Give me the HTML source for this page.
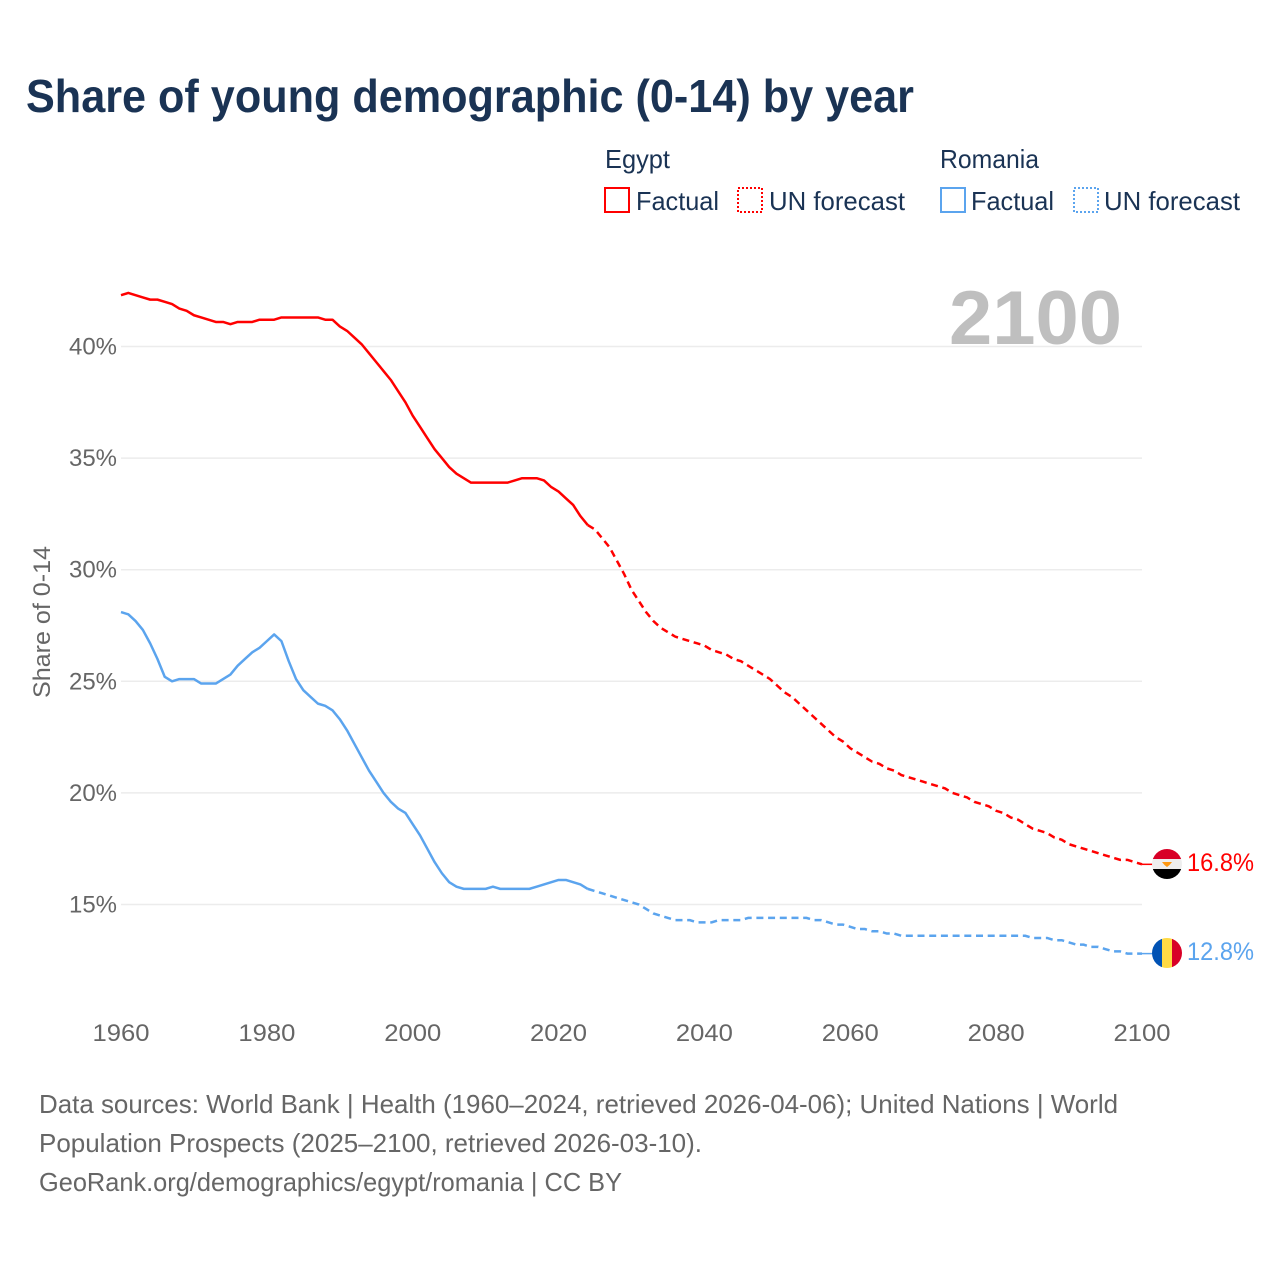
<!DOCTYPE html>
<html lang="en">
<head>
<meta charset="utf-8">
<title>Share of young demographic (0-14) by year</title>
<style>
html,body{margin:0;padding:0;background:#fff;}
svg{display:block;font-family:"Liberation Sans",sans-serif;}
</style>
</head>
<body>
<svg id="chart" width="1280" height="1280" viewBox="0 0 1280 1280" xmlns="http://www.w3.org/2000/svg">
  <defs>
    <clipPath id="flag-clip-egypt"><circle id="clip-egypt" cx="1167" cy="864" r="15"></circle></clipPath>
    <clipPath id="flag-clip-romania"><circle id="clip-romania" cx="1167" cy="953" r="15"></circle></clipPath>
  </defs>
  <rect x="0" y="0" width="1280" height="1280" fill="#fff"></rect>
  <text x="26" y="112" font-size="46" font-weight="700" fill="#1a3354" textLength="888" lengthAdjust="spacingAndGlyphs">Share of young demographic (0-14) by year</text>

  <g font-size="26" fill="#1a3354">
    <text x="605" y="168" textLength="65" lengthAdjust="spacingAndGlyphs">Egypt</text>
    <rect x="605" y="188" width="24" height="24" fill="none" stroke="#ff0000" stroke-width="2"></rect>
    <text x="636" y="210" textLength="83" lengthAdjust="spacingAndGlyphs">Factual</text>
    <rect x="738" y="188" width="24" height="24" fill="none" stroke="#ff0000" stroke-width="2" stroke-dasharray="2 2"></rect>
    <text x="769" y="210" textLength="136" lengthAdjust="spacingAndGlyphs">UN forecast</text>
    <text x="940" y="168" textLength="99" lengthAdjust="spacingAndGlyphs">Romania</text>
    <rect x="941" y="188" width="24" height="24" fill="none" stroke="#5ba4ee" stroke-width="2"></rect>
    <text x="971" y="210" textLength="83" lengthAdjust="spacingAndGlyphs">Factual</text>
    <rect x="1074" y="188" width="24" height="24" fill="none" stroke="#5ba4ee" stroke-width="2" stroke-dasharray="2 2"></rect>
    <text x="1104" y="210" textLength="136" lengthAdjust="spacingAndGlyphs">UN forecast</text>
  </g>

  <g id="grid"></g>
  <text x="949" y="344" font-size="76" font-weight="700" fill="#bfbfbf" textLength="173" lengthAdjust="spacingAndGlyphs">2100</text>
  <g id="y-ticks"></g>
  <g id="x-ticks"></g>
  <text transform="translate(50 622) rotate(-90)" text-anchor="middle" font-size="24" fill="#666" textLength="152" lengthAdjust="spacingAndGlyphs">Share of 0-14</text>
  <g id="series"></g>

  <g id="flag-egypt" clip-path="url(#flag-clip-egypt)">
    <rect id="eg-1" x="1152" y="849" width="30" height="10" fill="#d80027"></rect>
    <rect id="eg-2" x="1152" y="859" width="30" height="10" fill="#eeeeee"></rect>
    <rect id="eg-3" x="1152" y="869" width="30" height="10" fill="#000000"></rect>
    <path id="eg-4" d="M1162 862h10l-2.500 3-2.500 2-2.500-2z" fill="#ff9811"></path>
  </g>
  <g id="flag-romania" clip-path="url(#flag-clip-romania)">
    <rect id="ro-1" x="1152" y="938" width="10" height="30" fill="#0052b4"></rect>
    <rect id="ro-2" x="1162" y="938" width="10" height="30" fill="#ffda44"></rect>
    <rect id="ro-3" x="1172" y="938" width="10" height="30" fill="#d80027"></rect>
  </g>
  <text id="label-egypt" x="1187" y="871" font-size="25" fill="#ff0000" textLength="67" lengthAdjust="spacingAndGlyphs"></text>
  <text id="label-romania" x="1187" y="960" font-size="25" fill="#5ba4ee" textLength="67" lengthAdjust="spacingAndGlyphs"></text>

  <g font-size="26" fill="#666">
    <text x="39" y="1113" textLength="1079" lengthAdjust="spacingAndGlyphs">Data sources: World Bank | Health (1960–2024, retrieved 2026-04-06); United Nations | World</text>
    <text x="39" y="1152" textLength="663" lengthAdjust="spacingAndGlyphs">Population Prospects (2025–2100, retrieved 2026-03-10).</text>
    <text x="39" y="1191" textLength="583" lengthAdjust="spacingAndGlyphs">GeoRank.org/demographics/egypt/romania | CC BY</text>
  </g>
</svg>
<script>
const xTickYears = [1960, 1980, 2000, 2020, 2040, 2060, 2080, 2100];
const yTickValues = [15, 20, 25, 30, 35, 40];
const firstYear = 1960;
const lastFactualYear = 2024;
const egyptValues = [
42.3,42.4,42.3,42.2,42.1,42.1,42.0,41.9,41.7,41.6,
41.4,41.3,41.2,41.1,41.1,41.0,41.1,41.1,41.1,41.2,
41.2,41.2,41.3,41.3,41.3,41.3,41.3,41.3,41.2,41.2,
40.9,40.7,40.4,40.1,39.7,39.3,38.9,38.5,38.0,37.5,
36.9,36.4,35.9,35.4,35.0,34.6,34.3,34.1,33.9,33.9,
33.9,33.9,33.9,33.9,34.0,34.1,34.1,34.1,34.0,33.7,
33.5,33.2,32.9,32.4,32.0,31.8,31.4,31.0,30.4,29.8,
29.1,28.6,28.1,27.7,27.4,27.2,27.0,26.9,26.8,26.7,
26.6,26.4,26.3,26.2,26.0,25.9,25.7,25.5,25.3,25.1,
24.8,24.5,24.3,24.0,23.7,23.4,23.1,22.8,22.5,22.3,
22.0,21.8,21.6,21.4,21.3,21.1,21.0,20.8,20.7,20.6,
20.5,20.4,20.3,20.2,20.0,19.9,19.8,19.6,19.5,19.4,
19.2,19.1,18.9,18.8,18.6,18.4,18.3,18.2,18.0,17.9,
17.7,17.6,17.5,17.4,17.3,17.2,17.1,17.0,17.0,16.9,
16.8];
const romaniaValues = [
28.1,28.0,27.7,27.3,26.7,26.0,25.2,25.0,25.1,25.1,
25.1,24.9,24.9,24.9,25.1,25.3,25.7,26.0,26.3,26.5,
26.8,27.1,26.8,25.9,25.1,24.6,24.3,24.0,23.9,23.7,
23.3,22.8,22.2,21.6,21.0,20.5,20.0,19.6,19.3,19.1,
18.6,18.1,17.5,16.9,16.4,16.0,15.8,15.7,15.7,15.7,
15.7,15.8,15.7,15.7,15.7,15.7,15.7,15.8,15.9,16.0,
16.1,16.1,16.0,15.9,15.7,15.6,15.5,15.4,15.3,15.2,
15.1,15.0,14.8,14.6,14.5,14.4,14.3,14.3,14.3,14.2,
14.2,14.2,14.3,14.3,14.3,14.3,14.4,14.4,14.4,14.4,
14.4,14.4,14.4,14.4,14.4,14.3,14.3,14.2,14.1,14.1,
14.0,13.9,13.9,13.8,13.8,13.7,13.7,13.6,13.6,13.6,
13.6,13.6,13.6,13.6,13.6,13.6,13.6,13.6,13.6,13.6,
13.6,13.6,13.6,13.6,13.6,13.5,13.5,13.5,13.4,13.4,
13.3,13.2,13.2,13.1,13.1,13.0,12.9,12.9,12.8,12.8,
12.8];

const NS = 'http://www.w3.org/2000/svg';
const xOf = function (year) { return 121 + (year - 1960) * (1142 - 121) / 140; };
const yOf = function (v) { return 346.5 + (40 - v) * (904.5 - 346.5) / 25; };

const grid = document.getElementById('grid');
const yTicks = document.getElementById('y-ticks');
const xTicks = document.getElementById('x-ticks');
const series = document.getElementById('series');

yTickValues.forEach(function (v) {
  const line = document.createElementNS(NS, 'line');
  
  
  line.setAttribute('x1', xOf(1960));
  line.setAttribute('x2', xOf(2100));
  line.setAttribute('y1', yOf(v));
  line.setAttribute('y2', yOf(v));
  line.setAttribute('stroke', '#ececec');
  line.setAttribute('stroke-width', '1.500');
  grid.appendChild(line);

  const t = document.createElementNS(NS, 'text');
  
  
  t.setAttribute('x', 69);
  t.setAttribute('y', yOf(v) + 8);
  t.setAttribute('font-size', '24');
  t.setAttribute('fill', '#666');
  t.setAttribute('textLength', '48');
  t.setAttribute('lengthAdjust', 'spacingAndGlyphs');
  t.textContent = v + '%';
  yTicks.appendChild(t);
});

xTickYears.forEach(function (year) {
  const t = document.createElementNS(NS, 'text');
  
  
  t.setAttribute('x', xOf(year) - 28.500);
  t.setAttribute('y', 1041);
  t.setAttribute('font-size', '24');
  t.setAttribute('fill', '#666');
  t.setAttribute('textLength', '57');
  t.setAttribute('lengthAdjust', 'spacingAndGlyphs');
  t.textContent = String(year);
  xTicks.appendChild(t);
});

function pointsFor(values, fromYear, toYear) {
  const pts = [];
  for (let yr = fromYear; yr <= toYear; yr++) {
    pts.push(xOf(yr).toFixed(2) + ',' + yOf(values[yr - firstYear]).toFixed(2));
  }
  return pts.join(' ');
}

function drawLine(name, values, color) {
  const lastYear = firstYear + values.length - 1;
  const solid = document.createElementNS(NS, 'polyline');
  
  
  solid.setAttribute('points', pointsFor(values, firstYear, lastFactualYear));
  solid.setAttribute('fill', 'none');
  solid.setAttribute('stroke', color);
  solid.setAttribute('stroke-width', '2.500');
  solid.setAttribute('stroke-linejoin', 'round');
  series.appendChild(solid);

  const dashed = document.createElementNS(NS, 'polyline');
  
  
  dashed.setAttribute('points', pointsFor(values, lastFactualYear, lastYear));
  dashed.setAttribute('fill', 'none');
  dashed.setAttribute('stroke', color);
  dashed.setAttribute('stroke-width', '2.500');
  dashed.setAttribute('stroke-dasharray', '7 4.700');
  series.appendChild(dashed);

  const leader = document.createElementNS(NS, 'line');
  
  
  leader.setAttribute('x1', xOf(lastYear));
  leader.setAttribute('x2', xOf(lastYear) + 12);
  leader.setAttribute('y1', yOf(values[values.length - 1]));
  leader.setAttribute('y2', yOf(values[values.length - 1]));
  leader.setAttribute('stroke', color);
  leader.setAttribute('stroke-width', '1.500');
  series.appendChild(leader);
}

drawLine('egypt', egyptValues, '#ff0000');
drawLine('romania', romaniaValues, '#5ba4ee');

document.getElementById('label-egypt').textContent = egyptValues[egyptValues.length - 1].toFixed(1) + '%';
document.getElementById('label-romania').textContent = romaniaValues[romaniaValues.length - 1].toFixed(1) + '%';
</script>
</body>
</html>
